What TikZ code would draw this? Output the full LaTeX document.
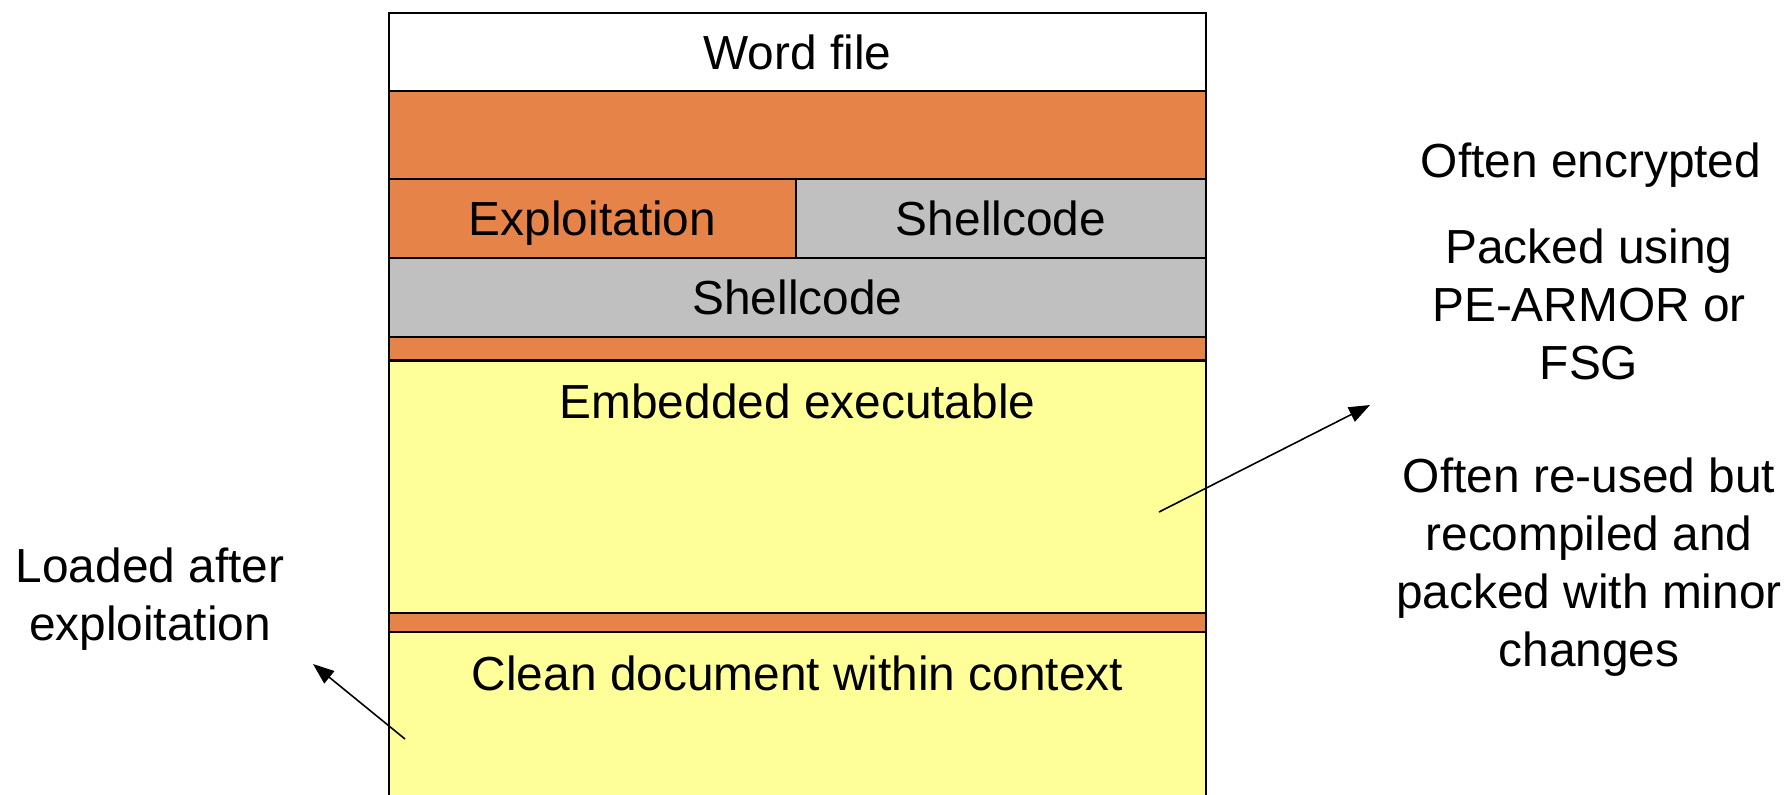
\documentclass[tikz,border=0pt]{standalone}
\usepackage{fontspec}
\setmainfont{Liberation Sans}
\usetikzlibrary{arrows.meta}
\definecolor{orng}{RGB}{230,131,72}
\definecolor{shgray}{RGB}{192,192,192}
\definecolor{paleyel}{RGB}{255,255,153}
\tikzset{layer/.style={draw,line width=.6pt,inner sep=0pt,minimum width=8.17cm},
  lbl/.style={align=center,inner sep=0pt},
  ptr/.style={-{Triangle[length=6pt,width=4.5pt]},line width=.45pt}}

\begin{document}
\begin{tikzpicture}[x=.01cm,y=-.01cm,font=\fontsize{13.6}{16.5}\selectfont]
\useasboundingbox (0,0) rectangle (1789,794);
% the layers of the file
\node[layer,fill=white,minimum height=.788cm] (word) at (797.5,52) {Word file};
\node[layer,fill=orng,minimum height=.877cm] (hdr) at (797.5,135) {};
\node[layer,fill=orng,minimum height=.79cm,minimum width=4.07cm,text depth=0pt] (expl) at (592.5,218.5) {Exploitation};
\node[layer,fill=shgray,minimum height=.79cm,minimum width=4.10cm] (shellA) at (1001,218.5) {Shellcode};
\node[layer,fill=shgray,minimum height=.786cm] (shellB) at (797.5,297.3) {Shellcode};
\node[layer,fill=orng,minimum height=.24cm] (gapA) at (797.5,348.6) {};
\node[layer,fill=paleyel,minimum height=2.52cm] (emb) at (797.5,486.6) {};
\node[layer,fill=orng,minimum height=.193cm] (gapB) at (797.5,622.3) {};
\node[layer,fill=paleyel,minimum height=1.76cm] (clean) at (797.5,720) {};
\node[lbl] (embtxt) at (797.5,401) {Embedded executable};
\node[lbl] (cleantxt) at (797.5,673) {Clean document within context};
% notes
\node[lbl,text depth=0pt] (enc) at (1591,160) {Often encrypted};
\node[lbl] (pack) at (1589,304) {Packed using\\PE-ARMOR or\\FSG};
\node[lbl] (reuse) at (1589,567) {Often re-used but\\recompiled and\\packed with minor\\changes};
\node[lbl] (load) at (150,599) {Loaded after\\exploitation};
\coordinate (embpt) at (1159,512);\coordinate (packtip) at (1370,405);
\coordinate (cleanpt) at (405,739);\coordinate (loadtip) at (313,664);
\draw[ptr] (embpt) -- (packtip);
\draw[ptr] (cleanpt) -- (loadtip);
\end{tikzpicture}
\end{document}
